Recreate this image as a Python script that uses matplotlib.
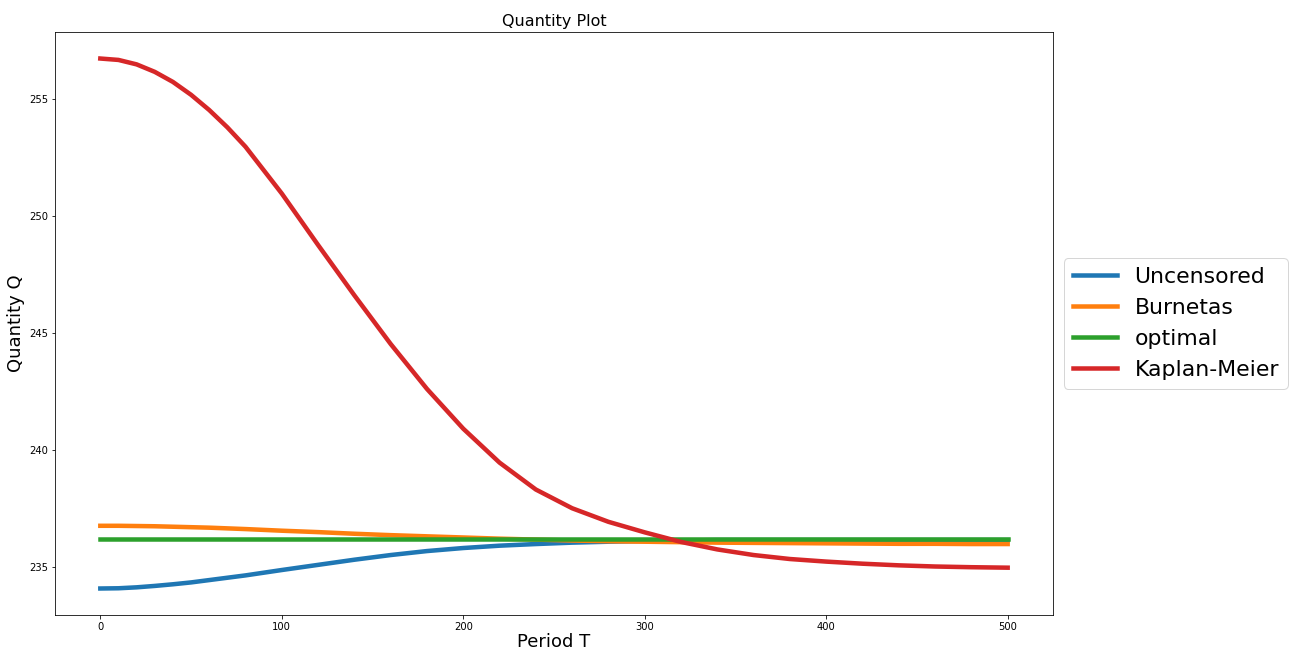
import matplotlib
matplotlib.use('Agg')
import matplotlib.pyplot as plt

# Periodos
periodos = [0, 10, 20, 30, 40, 50, 60, 70, 80, 100, 120, 140, 160, 180, 200, 220,
            240, 260, 280, 300, 320, 340, 360, 380, 400, 420, 440, 460, 480, 500]

uncensored = [234.07, 234.08, 234.12, 234.18, 234.25, 234.33, 234.43, 234.53, 234.63,
              234.86, 235.08, 235.30, 235.50, 235.67, 235.80, 235.90, 235.97, 236.03,
              236.07, 236.10, 236.12, 236.14, 236.14, 236.14, 236.14, 236.14, 236.14,
              236.14, 236.14, 236.14]
burnetas = [236.75, 236.75, 236.74, 236.73, 236.71, 236.69, 236.67, 236.64, 236.61,
            236.54, 236.48, 236.41, 236.35, 236.30, 236.25, 236.20, 236.16, 236.12,
            236.09, 236.07, 236.05, 236.03, 236.02, 236.01, 236.00, 235.99, 235.98,
            235.98, 235.97, 235.97]
optimal = [236.19] * len(periodos)
kaplan_meier = [256.72, 256.66, 256.47, 256.15, 255.72, 255.17, 254.52, 253.78, 252.95,
                250.95, 248.75, 246.60, 244.52, 242.60, 240.90, 239.45, 238.30, 237.50,
                236.92, 236.47, 236.06, 235.74, 235.50, 235.33, 235.22, 235.13, 235.06,
                235.01, 234.98, 234.96]

fig = plt.figure(figsize=(1293 / 72, 651 / 72), dpi=72)
ax = fig.add_axes([0.0425, 0.0553, 0.7719, 0.8955])

ax.plot(periodos, uncensored, color='#1f77b4', lw=4.5, label='Uncensored')
ax.plot(periodos, burnetas, color='#ff7f0e', lw=4.5, label='Burnetas')
ax.plot(periodos, optimal, color='#2ca02c', lw=4.5, label='optimal')
ax.plot(periodos, kaplan_meier, color='#d62728', lw=4.5, label='Kaplan-Meier')

ax.set_title('Quantity Plot', fontsize=16)
ax.set_xlabel('Period T', fontsize=18, labelpad=1)
ax.set_ylabel('Quantity Q', fontsize=18)
ax.tick_params(labelsize=10)
ax.set_yticks([235, 240, 245, 250, 255])
ax.legend(loc='center left', bbox_to_anchor=(1, 0.5), fontsize=22)

fig.savefig('out.png', dpi=72)
